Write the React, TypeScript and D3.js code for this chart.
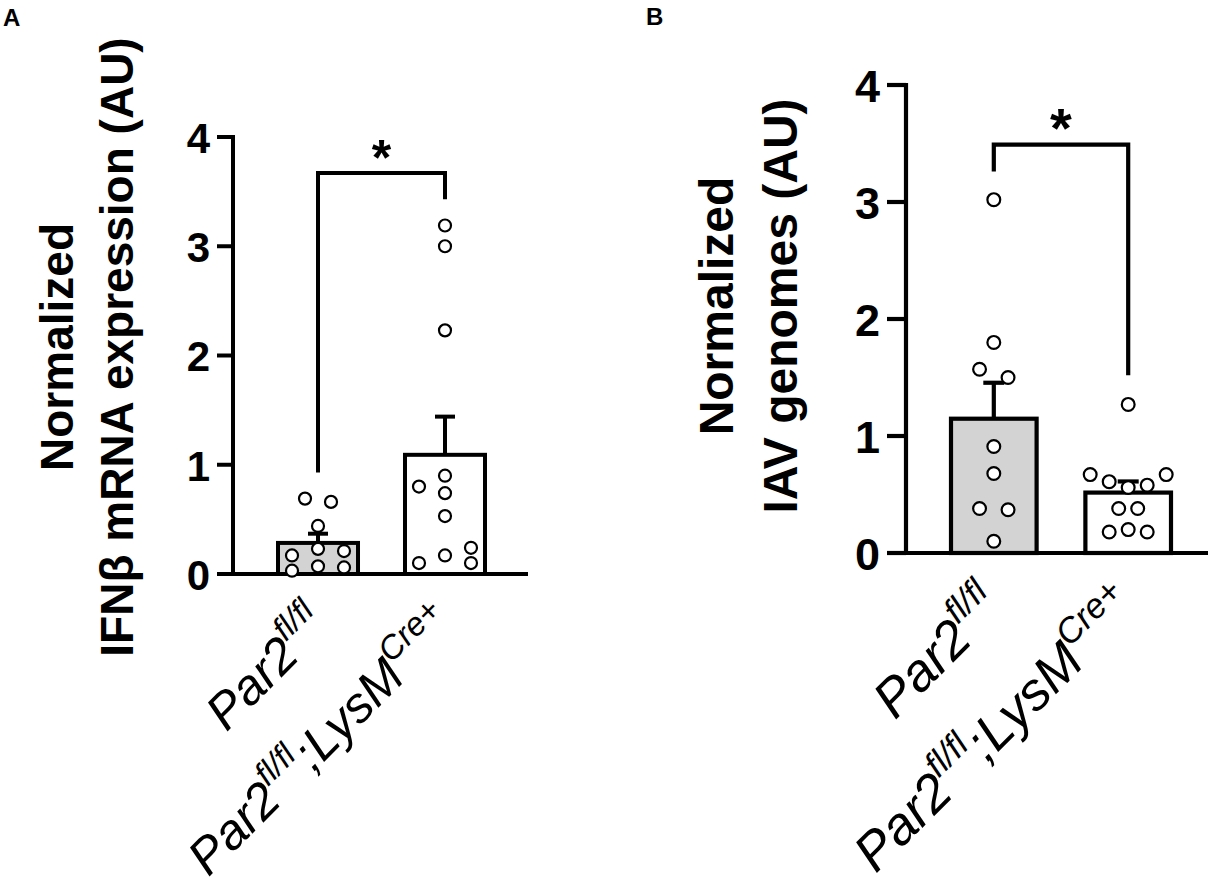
import * as d3 from 'd3';

// group keys (x categories)
const groups = ['flox', 'cre'];
const yTicks = [0, 1, 2, 3, 4];

// Panel A: IFNβ mRNA, individual animals
const ifnFlox = [0.69, 0.66, 0.44, 0.23, 0.17, 0.21, 0.03, 0.07, 0.06];
const ifnFloxCol = [-1, 1, 0, 0, -2, 2, -2, 0, 2];
const ifnCre = [3.19, 3.0, 2.23, 0.9, 0.8, 0.74, 0.53, 0.17, 0.1, 0.24, 0.1];
const ifnCreCol = [0, 0, 0, 0, -2, 0, 0, 0, -2, 2, 2];
// bracket: left foot, top, right foot
const ifnBracket = [0.93, 3.67, 3.43];

// Panel B: IAV genomes
const iavFlox = [3.02, 1.8, 1.57, 1.5, 0.91, 0.68, 0.38, 0.37, 0.1];
const iavFloxCol = [0, 0, -1.5, 1.5, 0, 0, -1.5, 1.5, 0];
const iavCre = [1.27, 0.67, 0.61, 0.56, 0.58, 0.67, 0.38, 0.38, 0.18, 0.2, 0.18];
const iavCreCol = [0, -4, -2, 0, 2, 4, -1, 1, -2, 0, 2];
const iavBracket = [3.26, 3.49, 1.52];

const barFills = ['#d3d3d3', '#ffffff'];
const FONT = "Arial, 'Liberation Sans', Helvetica, sans-serif";

type Layout = {
  letter: string;
  letterX: number;
  letterY: number;
  yRange: [number, number];
  axisX: number;
  axisEnd: number;
  band: [number, number];
  pad: number;
  tick: number;
  tickFont: number;
  jitter: number;
  r: number;
  sw: number;
  cap: number;
  titleLines: string[];
  titleX: [number, number];
  titleY: number;
  titleFont: number;
  labelFont: number;
  labelDx: number;
  labelDy: number;
  starFont: number;
};

const Label = ({ i, size }: { i: number; size: number }) => {
  const sup = size * 0.66;
  const up = size * 0.44;
  if (i === 0) {
    return (
      <>
        <tspan>Par2</tspan>
        <tspan fontSize={sup} dy={-up}>fl/fl</tspan>
      </>
    );
  }
  return (
    <>
      <tspan>Par2</tspan>
      <tspan fontSize={sup} dy={-up}>fl/fl</tspan>
      <tspan dy={up}>;LysM</tspan>
      <tspan fontSize={sup} dy={-up}>Cre+</tspan>
    </>
  );
};

const Panel = ({ L, series, cols, bracket }: {
  L: Layout; series: number[][]; cols: number[][]; bracket: number[];
}) => {
  const y = d3.scaleLinear().domain([0, 4]).range(L.yRange);
  const x = d3.scaleBand().domain(groups).range(L.band).paddingInner(L.pad).paddingOuter(0);
  const bw = x.bandwidth();
  const cx = (g: string) => (x(g) || 0) + bw / 2;
  const y0 = y(0);

  const stats = series.map(v => {
    const m = d3.mean(v) || 0;
    const sem = (d3.deviation(v) || 0) / Math.sqrt(v.length);
    return { m, top: m + sem };
  });

  const bx0 = cx(groups[0]);
  const bx1 = cx(groups[1]);
  const bracketPath = d3.line()([
    [bx0, y(bracket[0])],
    [bx0, y(bracket[1])],
    [bx1, y(bracket[1])],
    [bx1, y(bracket[2])],
  ]) || '';

  return (
    <g fontFamily={FONT}>
      <text x={L.letterX} y={L.letterY} fontSize={24} fontWeight="bold">{L.letter}</text>

      {/* y axis title, two lines */}
      {L.titleLines.map((t, k) => (
        <text key={k} transform={`translate(${L.titleX[k]},${L.titleY}) rotate(-90)`}
          textAnchor="middle" fontSize={L.titleFont} fontWeight="bold">{t}</text>
      ))}

      {/* bars */}
      {groups.map((g, k) => (
        <rect key={g} x={x(g)} y={y(stats[k].m)} width={bw} height={y0 - y(stats[k].m)}
          fill={barFills[k]} stroke="#000" strokeWidth={L.sw} />
      ))}

      {/* error bars, upper only */}
      {groups.map((g, k) => (
        <g key={g} stroke="#000" strokeWidth={L.sw}>
          <line x1={cx(g)} x2={cx(g)} y1={y(stats[k].m)} y2={y(stats[k].top)} />
          <line x1={cx(g) - L.cap / 2} x2={cx(g) + L.cap / 2} y1={y(stats[k].top)} y2={y(stats[k].top)} />
        </g>
      ))}

      {/* axes */}
      <g stroke="#000" strokeWidth={L.sw} fill="none">
        <line x1={L.axisX} x2={L.axisX} y1={y(4) - L.sw / 2} y2={y0} />
        <line x1={L.axisX - L.tick} x2={L.axisEnd} y1={y0} y2={y0} />
        {yTicks.map(t => (
          <line key={t} x1={L.axisX - L.tick} x2={L.axisX} y1={y(t)} y2={y(t)} />
        ))}
      </g>
      {yTicks.map(t => (
        <text key={t} x={L.axisX - L.tick - 7} y={y(t)} dy="0.38em" textAnchor="end"
          fontSize={L.tickFont} fontWeight="bold">{t}</text>
      ))}

      {/* significance bracket */}
      <path d={bracketPath} fill="none" stroke="#000" strokeWidth={L.sw} />
      <text x={(bx0 + bx1) / 2} y={y(bracket[1]) + L.sw / 2} textAnchor="middle"
        fontSize={L.starFont} fontWeight="bold">*</text>

      {/* points */}
      {series.map((v, k) => v.map((d, j) => (
        <circle key={`${k}-${j}`} cx={cx(groups[k]) + cols[k][j] * L.jitter} cy={y(d)} r={L.r}
          fill="#fff" stroke="#000" strokeWidth={2.2} />
      )))}

      {/* x labels */}
      {groups.map((g, k) => (
        <text key={g} transform={`translate(${cx(g) + L.labelDx},${y0 + L.labelDy}) rotate(-45)`}
          textAnchor="end" fontSize={L.labelFont} fontStyle="italic">
          <Label i={k} size={L.labelFont} />
        </text>
      ))}
    </g>
  );
};

const layoutA: Layout = {
  letter: 'A', letterX: 3, letterY: 26,
  yRange: [574, 137], axisX: 233, axisEnd: 528, band: [278, 485], pad: 0.37,
  tick: 16, tickFont: 42, jitter: 13, r: 6, sw: 4, cap: 20,
  titleLines: ['Normalized', 'IFNβ mRNA expression (AU)'], titleX: [73, 133], titleY: 347, titleFont: 46,
  labelFont: 50, labelDx: 13, labelDy: 54, starFont: 50,
};

const layoutB: Layout = {
  letter: 'B', letterX: 646, letterY: 25,
  yRange: [553, 85], axisX: 906, axisEnd: 1208, band: [951, 1171], pad: 0.363,
  tick: 19, tickFont: 45, jitter: 9.5, r: 6.4, sw: 4.2, cap: 21,
  titleLines: ['Normalized', 'IAV genomes (AU)'], titleX: [733, 797], titleY: 306, titleFont: 48,
  labelFont: 53, labelDx: 12, labelDy: 57, starFont: 56,
};

export default function App() {
  return (
    <svg width={1221} height={887} style={{ position: 'absolute', left: 0, top: 0, background: '#fff' }}>
      <Panel L={layoutA} series={[ifnFlox, ifnCre]} cols={[ifnFloxCol, ifnCreCol]} bracket={ifnBracket} />
      <Panel L={layoutB} series={[iavFlox, iavCre]} cols={[iavFloxCol, iavCreCol]} bracket={iavBracket} />
    </svg>
  );
}
